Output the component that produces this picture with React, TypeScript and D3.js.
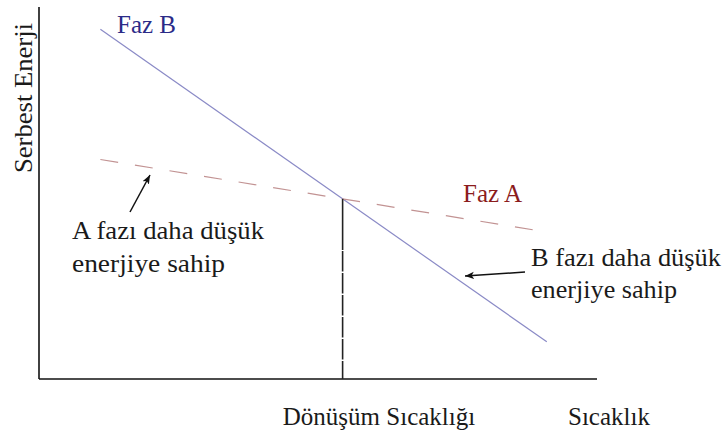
import React from "react";
import * as d3 from "d3";

// Free energy vs. temperature for two phases (schematic, arbitrary units)
const temperatures = [11, 91];
const phaseBEnergy = [94, 10];
const phaseAEnergy = [59, 39.5];
const seriesLabels = ["Faz A", "Faz B"];
const axisLabels = ["Sıcaklık", "Serbest Enerji"];
const transitionLabel = "Dönüşüm Sıcaklığı";
const noteA = ["A fazı daha düşük", "enerjiye sahip"];
const noteB = ["B fazı daha düşük", "enerjiye sahip"];

const W = 725;
const H = 433;
const FONT = "'Liberation Serif', 'Times New Roman', serif";

export default function App() {
  const x = d3.scaleLinear().domain([0, 100]).range([39, 597]);
  const y = d3.scaleLinear().domain([0, 100]).range([379, 7]);

  const line = d3
    .line<[number, number]>()
    .x((d) => x(d[0]))
    .y((d) => y(d[1]));

  const bPts = temperatures.map((t, i) => [t, phaseBEnergy[i]] as [number, number]);
  const aPts = temperatures.map((t, i) => [t, phaseAEnergy[i]] as [number, number]);

  // intersection of the two straight lines = transition temperature
  const sB = (phaseBEnergy[1] - phaseBEnergy[0]) / (temperatures[1] - temperatures[0]);
  const sA = (phaseAEnergy[1] - phaseAEnergy[0]) / (temperatures[1] - temperatures[0]);
  const tCross = temperatures[0] + (phaseAEnergy[0] - phaseBEnergy[0]) / (sB - sA);
  const eCross = phaseAEnergy[0] + sA * (tCross - temperatures[0]);

  const xc = x(tCross);
  const yc = y(eCross);
  const y0 = y(0);
  const breakY = 251;

  return (
    <svg
      width={W}
      height={H}
      style={{ position: "absolute", left: 0, top: 0, background: "#fff" }}
      fontFamily={FONT}
    >
      <defs>
        <marker
          id="ah"
          viewBox="0 0 10 10"
          refX="10"
          refY="5"
          markerWidth="9"
          markerHeight="9"
          markerUnits="userSpaceOnUse"
          orient="auto"
        >
          <path d="M0,1 L10,5 L0,9 L2.5,5 Z" fill="#111" />
        </marker>
      </defs>

      {/* axes */}
      <line x1={x(0)} y1={y(100)} x2={x(0)} y2={y0} stroke="#111" strokeWidth={1.6} />
      <line x1={x(0)} y1={y0} x2={x(100)} y2={y0} stroke="#111" strokeWidth={1.6} />

      {/* phase curves */}
      <path d={line(bPts) ?? ""} fill="none" stroke="#8a8ac6" strokeWidth={1.2} />
      <path
        d={line(aPts) ?? ""}
        fill="none"
        stroke="#c29393"
        strokeWidth={1.2}
        strokeDasharray="18 17"
      />

      {/* transition temperature marker */}
      <line x1={xc} y1={yc} x2={xc} y2={breakY - 1} stroke="#222" strokeWidth={1.6} />
      <line
        x1={xc}
        y1={breakY}
        x2={xc}
        y2={y0}
        stroke="#222"
        strokeWidth={1.6}
        strokeDasharray="20.5 1.5"
      />

      {/* series labels */}
      <text x={117} y={33} fontSize={25} fill="#2b2b88">{seriesLabels[1]}</text>
      <text x={463} y={202} fontSize={25} fill="#8b1c1c">{seriesLabels[0]}</text>

      {/* axis labels */}
      <text
        transform="translate(32,98) rotate(-90)"
        textAnchor="middle"
        fontSize={25}
        fill="#1a1a1a"
        textLength={150}
        lengthAdjust="spacingAndGlyphs"
      >
        {axisLabels[1]}
      </text>
      <text x={568} y={425} fontSize={25} fill="#1a1a1a">{axisLabels[0]}</text>
      <text x={379} y={425} fontSize={25} fill="#1a1a1a" textAnchor="middle">
        {transitionLabel}
      </text>

      {/* annotations */}
      <line x1={130} y1={212} x2={150} y2={175} stroke="#111" strokeWidth={1.5} markerEnd="url(#ah)" />
      <text x={72} y={239} fontSize={25} fill="#1a1a1a" textLength={192} lengthAdjust="spacingAndGlyphs">
        {noteA[0]}
      </text>
      <text x={72} y={272} fontSize={25} fill="#1a1a1a" textLength={153} lengthAdjust="spacingAndGlyphs">
        {noteA[1]}
      </text>

      <line x1={525} y1={272} x2={465} y2={276} stroke="#111" strokeWidth={1.5} markerEnd="url(#ah)" />
      <text x={531} y={266} fontSize={25} fill="#1a1a1a" textLength={190} lengthAdjust="spacingAndGlyphs">
        {noteB[0]}
      </text>
      <text x={531} y={298} fontSize={25} fill="#1a1a1a" textLength={146} lengthAdjust="spacingAndGlyphs">
        {noteB[1]}
      </text>
    </svg>
  );
}
